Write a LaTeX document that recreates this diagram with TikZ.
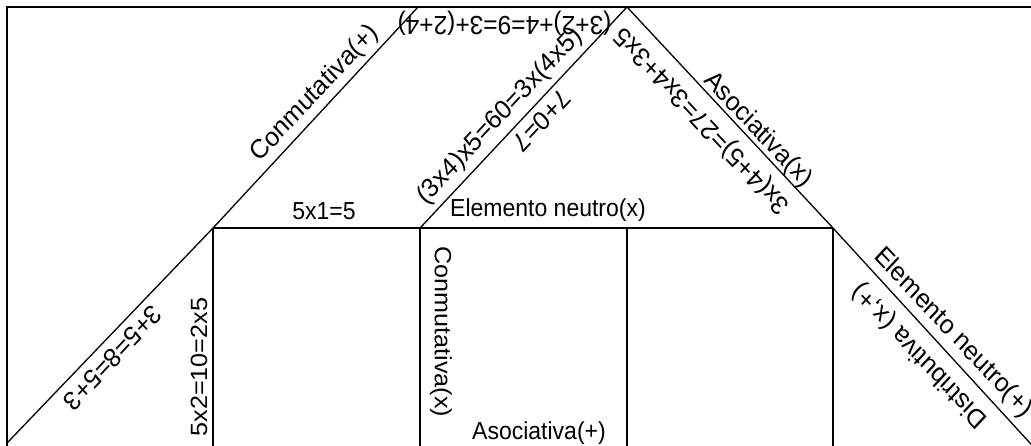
\documentclass[tikz,border=0pt]{standalone}
\usepackage{fontspec}
\setmainfont{Liberation Sans}
\begin{document}
\begin{tikzpicture}[x=1pt,y=-1pt]
\tikzset{
  edge/.style={line width=1.3pt, black},
  lbl/.style={font=\fontsize{23}{27}\selectfont, inner sep=0pt, text=black},
  dlbl/.style={font=\fontsize{24.8}{29}\selectfont, inner sep=0pt, text=black},
  vlbl/.style={font=\fontsize{23.5}{28}\selectfont, inner sep=0pt, text=black}
}
\useasboundingbox (0,0) rectangle (1031,446);
\fill[white] (0,0) rectangle (1031,446);
\clip (0,0) rectangle (1031,446);
\begin{scope}[yscale=1.07, transform shape]
  % frame corners
  \coordinate (TL) at (7,6.54);
  \coordinate (TR) at (1040,6.54);
  \coordinate (BL) at (7,425);
  % diagonals and box corners
  \coordinate (A)  at (7,414.0);
  \coordinate (H1) at (213,213.1);
  \coordinate (P)  at (418,6.54);
  \coordinate (H2) at (420,213.1);
  \coordinate (Q)  at (627,6.54);
  \coordinate (H3) at (627,213.1);
  \coordinate (H4) at (833,213.1);
  \coordinate (R)  at (1041,425.2);
  \coordinate (B1) at (213,425);
  \coordinate (B2) at (420,425);
  \coordinate (B3) at (627,425);
  \coordinate (B4) at (833,425);

  \draw[edge] (BL) -- (TL) -- (TR);
  \draw[edge] (A) -- (H1) -- (P);
  \draw[edge] (H2) -- (Q) -- (H4) -- (R);
  \draw[edge] (H1) -- (H4);
  \draw[edge] (H1) -- (B1);
  \draw[edge] (H2) -- (B2);
  \draw[edge] (H3) -- (B3);
  \draw[edge] (H4) -- (B4);

  \node[dlbl, rotate=45]  (n1)  at (315,87.5)   {Conmutativa(+)};
  \node[dlbl, rotate=45]  (n2)  at (500,109.0)  {(3x4)x5=60=3x(4x5)};
  \node[dlbl, rotate=225] (n3)  at (542,113.1)  {7+0=7};
  \node[lbl, font=\fontsize{24.5}{29}\selectfont, rotate=180] (n4)  at (504.5,22.0) {(3+2)+4=9=3+(2+4)};
  \node[lbl]              (n5)  at (324,197.2)  {5x1=5};
  \node[lbl]              (n6)  at (548,196.3)  {Elemento neutro(x)};
  \node[dlbl, rotate=135] (n7)  at (703,112.1)  {3x(4+5)=27=3x4+3x5};
  \node[dlbl, rotate=-45] (n8)  at (758,121.5)  {Asociativa(x)};
  \node[dlbl, rotate=225] (n9)  at (113,334.6)  {3+5=8=5+3};
  \node[vlbl, rotate=90]  (n10) at (199,343.0)  {5x2=10=2x5};
  \node[vlbl, rotate=-90] (n11) at (441,310.3)  {Conmutativa(x)};
  \node[lbl]              (n12) at (539,404.7)  {Asociativa(+)};
  \node[dlbl, rotate=-45] (n13) at (953,311.2)  {Elemento neutro(+)};
  \node[dlbl, rotate=135] (n14) at (920,331.8)  {Distributiva (x,+)};
\end{scope}
\end{tikzpicture}
\end{document}
